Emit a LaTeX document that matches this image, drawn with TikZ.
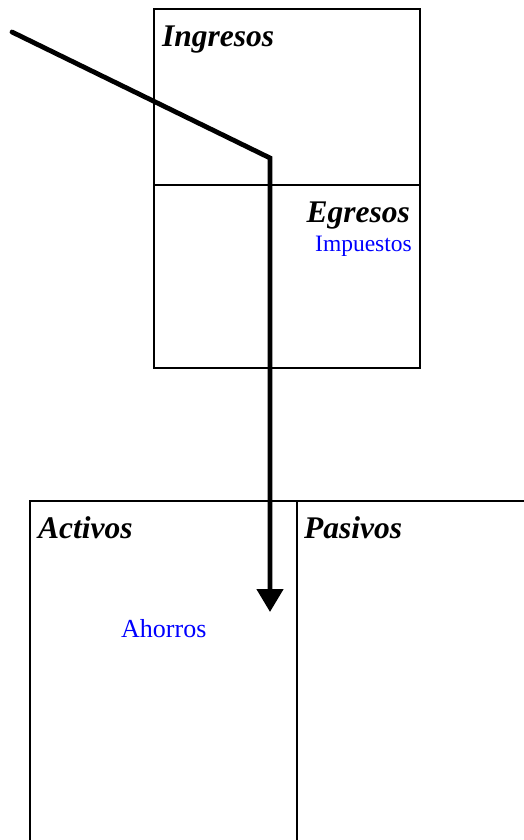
\documentclass[tikz,border=0pt]{standalone}
\usepackage{fontspec}
\setmainfont{Liberation Serif}
\usetikzlibrary{arrows.meta}
\tikzset{
  frame/.style={draw=black, line width=1.1pt},
  heading/.style={inner sep=0pt, font=\fontsize{31.5}{36}\selectfont\bfseries\itshape},
  bluetext/.style={inner sep=0pt, text=blue},
  flow/.style={line width=4.8pt, line cap=round, line join=miter, -{Triangle[width=26pt,length=23pt]}}
}
\begin{document}
\begin{tikzpicture}[x=1pt,y=-1pt]
\useasboundingbox (0,0) rectangle (523,840);
% top boxes
\draw[frame] (154,9) rectangle (420,185);
\draw[frame] (154,185) rectangle (420,368);
% bottom boxes (open at the bottom and right)
\draw[frame] (30,841) -- (30,501) -- (524,501);
\draw[frame] (297,501) -- (297,841);
% texts
\node[heading, anchor=base west] (ing) at (162,47) {Ingresos};
\node[heading, anchor=base east] (egr) at (410,222) {Egresos};
\node[bluetext, anchor=base east, font=\fontsize{23.5}{28}\selectfont] (imp) at (412,251) {Impuestos};
\node[heading, anchor=base west] (act) at (38,538) {Activos};
\node[heading, anchor=base west] (pas) at (304,538) {Pasivos};
\node[bluetext, anchor=base west, font=\fontsize{26}{30}\selectfont] (aho) at (121,637) {Ahorros};
% flow line
\coordinate (start) at (12,32);
\coordinate (bend) at (270,158);
\coordinate (tip) at (270,612);
\draw[flow] (start) -- (bend) -- (tip);
\end{tikzpicture}
\end{document}
